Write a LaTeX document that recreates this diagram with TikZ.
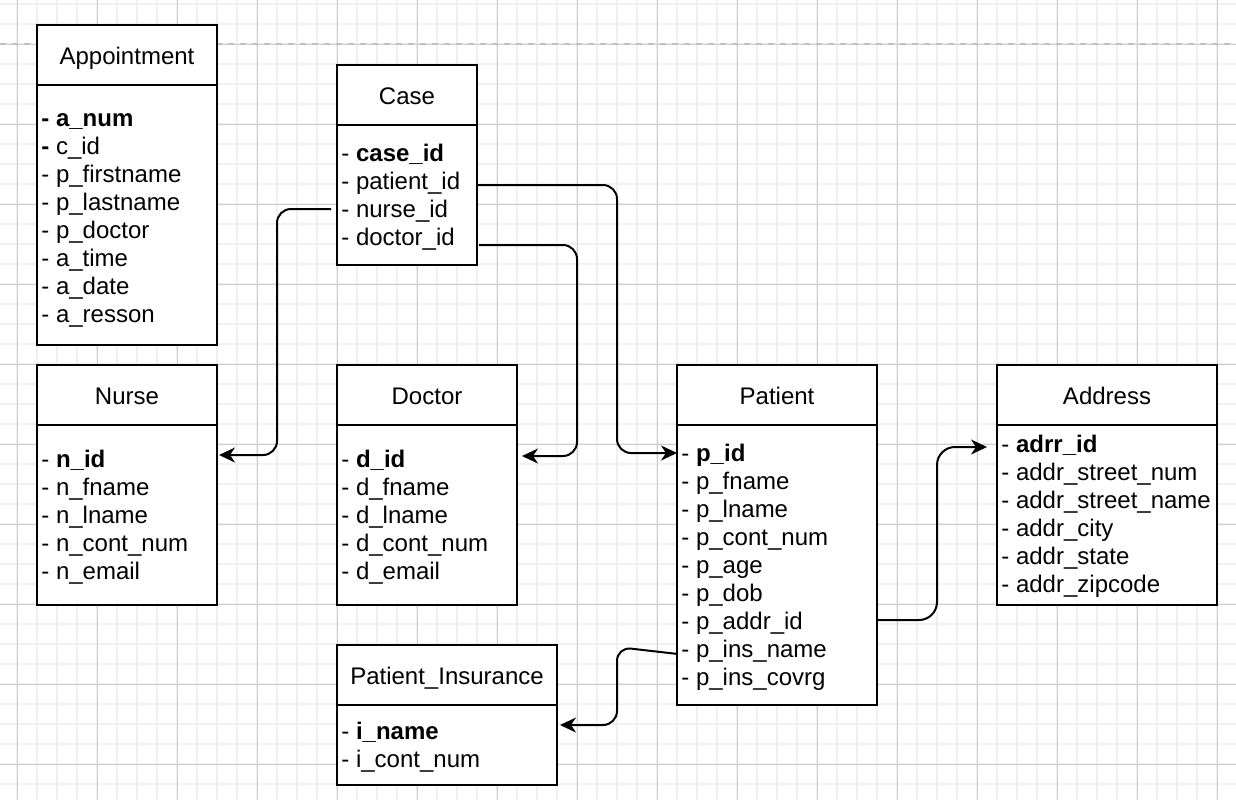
\documentclass[tikz,border=0pt]{standalone}
\usepackage{fontspec}
\setmainfont{Liberation Sans}
\usetikzlibrary{calc,arrows.meta}
\newcommand{\erbox}[8]{%
  \node[ebox, minimum width=#4*0.5pt, minimum height=#5*0.5pt] (#1) at (#2,#3) {};
  \draw[eline] ($(#1.north west)+(0,60)$) -- ($(#1.north east)+(0,60)$);
  \node[etitle] (#1-t) at ($(#1.north)+(0,39)$) {#6};
  \foreach \rowtext [count=\i from 0] in {#8} {%
    \node[erow] (#1-\i) at ($(#1.north west)+(4,#7+28*\i)$) {\rowtext};}%
}
\begin{document}
\begin{tikzpicture}[x=0.5pt,y=-0.5pt,
  ebox/.style={draw=black, line width=1pt, fill=white, anchor=north west, inner sep=0pt, outer sep=0pt},
  eline/.style={line width=1pt},
  etitle/.style={anchor=base, inner sep=0pt, font=\fontsize{12}{14}\selectfont},
  erow/.style={anchor=base west, inner sep=0pt, font=\fontsize{12}{14}\selectfont},
  conn/.style={line width=1pt, rounded corners=7pt, -{Stealth[length=8pt,width=7.5pt,inset=2.5pt]}},
  minorgrid/.style={draw=black!6, line width=1pt},
  majorgrid/.style={draw=black!20, line width=0.5pt},
  pageline/.style={draw=black!25, line width=0.75pt, dash pattern=on 3pt off 3pt}]
\useasboundingbox (0,0) rectangle (1236,800);
\fill[white] (0,0) rectangle (1236,800);
% grid
\foreach \x in {17,37,...,1237} \draw[minorgrid] (\x,0) -- (\x,800);
\foreach \y in {4,24,...,804} \draw[minorgrid] (0,\y) -- (1236,\y);
\foreach \x in {17,97,...,1217} \draw[majorgrid] (\x,0) -- (\x,800);
\foreach \y in {44,124,...,764} \draw[majorgrid] (0,\y) -- (1236,\y);
\draw[pageline] (0,44) -- (1236,44);
% entities
\erbox{app}{37}{25}{180}{320}{Appointment}{101}{\textbf{- a\_num}, \textbf{-} c\_id, - p\_firstname, - p\_lastname, - p\_doctor, - a\_time, - a\_date, - a\_resson}
\erbox{case}{337}{65}{140}{200}{Case}{96}{- \textbf{case\_id}, - patient\_id, - nurse\_id, - doctor\_id}
\erbox{nurse}{37}{365}{180}{240}{Nurse}{102}{- \textbf{n\_id}, - n\_fname, - n\_lname, - n\_cont\_num, - n\_email}
\erbox{doctor}{337}{365}{180}{240}{Doctor}{102}{- \textbf{d\_id}, - d\_fname, - d\_lname, - d\_cont\_num, - d\_email}
\erbox{patient}{677}{365}{200}{340}{Patient}{96}{- \textbf{p\_id}, - p\_fname, - p\_lname, - p\_cont\_num, - p\_age, - p\_dob, - p\_addr\_id, - p\_ins\_name, - p\_ins\_covrg}
\erbox{address}{997}{365}{220}{240}{Address}{87}{- \textbf{adrr\_id}, - addr\_street\_num, - addr\_street\_name, - addr\_city, - addr\_state, - addr\_zipcode}
\erbox{pi}{337}{645}{220}{140}{Patient\_Insurance}{94}{- \textbf{i\_name}, - i\_cont\_num}
% connectors
\draw[conn] ($(case.north east)+(1,120)$) -- (617,185) -- (617,453) -- ($(patient.north west)+(0,88)$);
\draw[conn] ($(case.north east)+(2,180)$) -- (577,245) -- (577,456) -- ($(doctor.north east)+(5,91)$);
\draw[conn] ($(case.north west)+(-6,144)$) -- (277,209) -- (277,455) -- ($(nurse.north east)+(2,90)$);
\draw[conn, rounded corners=9pt] ($(patient.north east)+(0,255)$) -- (937,620) -- (937,447) -- ($(address.north west)+(-10,82)$);
\draw[conn] ($(patient.north west)+(1,289)$) -- (617,647) -- (617,725) -- ($(pi.north east)+(3,80)$);
\end{tikzpicture}
\end{document}
